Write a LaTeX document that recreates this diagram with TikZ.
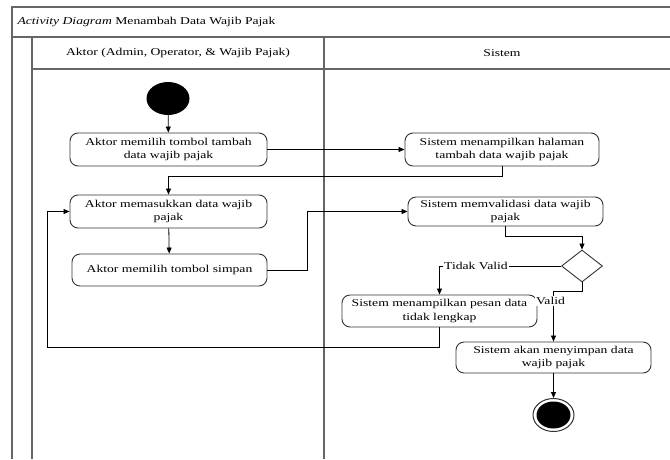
\documentclass[tikz,border=0pt]{standalone}
\usepackage{fontspec}
\setmainfont{Liberation Serif}[FakeStretch=1.3]
\usetikzlibrary{shapes.geometric,arrows.meta}
\begin{document}
\begin{tikzpicture}[x=1pt,y=-1pt,
  every node/.style={font=\fontsize{10.5}{13.5}\selectfont},
  lane/.style={draw=black!60,line width=1.4pt},
  act/.style={draw=black!80,line width=0.9pt,rounded corners=8pt,align=center,
    inner sep=1pt,fill=white},
  flow/.style={draw=black,line width=0.8pt,-{Triangle[length=6pt,width=5pt]}},
  guard/.style={fill=white,inner sep=1pt}]
\useasboundingbox (0,0) rectangle (670,459);

% swimlane frame
\draw[lane] (12,459) -- (12,7) -- (672,7);
\draw[lane] (12,37) -- (672,37);
\draw[lane] (32,459) -- (32,37);
\draw[lane] (32,69) -- (672,69);
\draw[lane] (324,459) -- (324,37);
\node[anchor=west] (title) at (14,22) {\textit{Activity Diagram} Menambah Data Wajib Pajak};
\node (laneA) at (178,53) {Aktor (Admin, Operator, \& Wajib Pajak)};
\node (laneS) at (502,53) {Sistem};

% start and end
\node[ellipse,fill=black,minimum width=43pt,minimum height=33pt,inner sep=0pt] (start) at (168,98.5) {};
\node[ellipse,draw=black!80,line width=1pt,minimum width=41pt,minimum height=33pt,inner sep=0pt] (end) at (553.5,415) {};
\node[ellipse,fill=black,minimum width=34pt,minimum height=27pt,inner sep=0pt] (endc) at (553.5,415) {};

% activities
\node[act,minimum width=197pt,minimum height=33pt] (a1) at (168.5,149.5) {Aktor memilih tombol tambah\\data wajib pajak};
\node[act,minimum width=197pt,minimum height=33pt] (a2) at (168.5,211.5) {Aktor memasukkan data wajib\\pajak};
\node[act,minimum width=195pt,minimum height=32pt] (a3) at (169.5,270) {Aktor memilih tombol simpan};
\node[act,minimum width=194pt,minimum height=33pt] (s1) at (502,149.5) {Sistem menampilkan halaman\\tambah data wajib pajak};
\node[act,minimum width=195pt,minimum height=29pt] (s2) at (505.5,211.5) {Sistem memvalidasi data wajib\\pajak};
\node[diamond,draw=black!80,line width=0.9pt,minimum width=41pt,minimum height=32pt,inner sep=0pt] (dec) at (582,266) {};
\node[act,minimum width=195pt,minimum height=32pt] (s3) at (439.5,311) {Sistem menampilkan pesan data\\tidak lengkap};
\node[act,minimum width=195pt,minimum height=31pt] (s4) at (553.5,357.5) {Sistem akan menyimpan data\\wajib pajak};

% control flow
\draw[flow] (start) -- (a1);
\draw[flow] (a1.east) -- (s1.west);
\draw[flow] (s1.south) -- (s1.south |- 0,176) -| (a2.north);
\draw[flow] (a2) -- (a3);
\draw[flow] (a3.east) -- (307,270) |- (s2.west);
\draw[flow] (s2.south) -- (s2.south |- 0,236) -| (dec.north);
\draw[flow] (dec.west) -| (s3.north) node[guard,pos=0.35] (tv) {Tidak Valid};
\draw[flow] (dec.south) -- (582,291) -| (s4.north) node[guard,pos=0.6,xshift=-3pt] (v) {Valid};
\draw[flow] (s3.south) -- (s3.south |- 0,347) -- (47,347) |- (a2.west);
\draw[flow] (s4) -- (end);
\end{tikzpicture}
\end{document}
